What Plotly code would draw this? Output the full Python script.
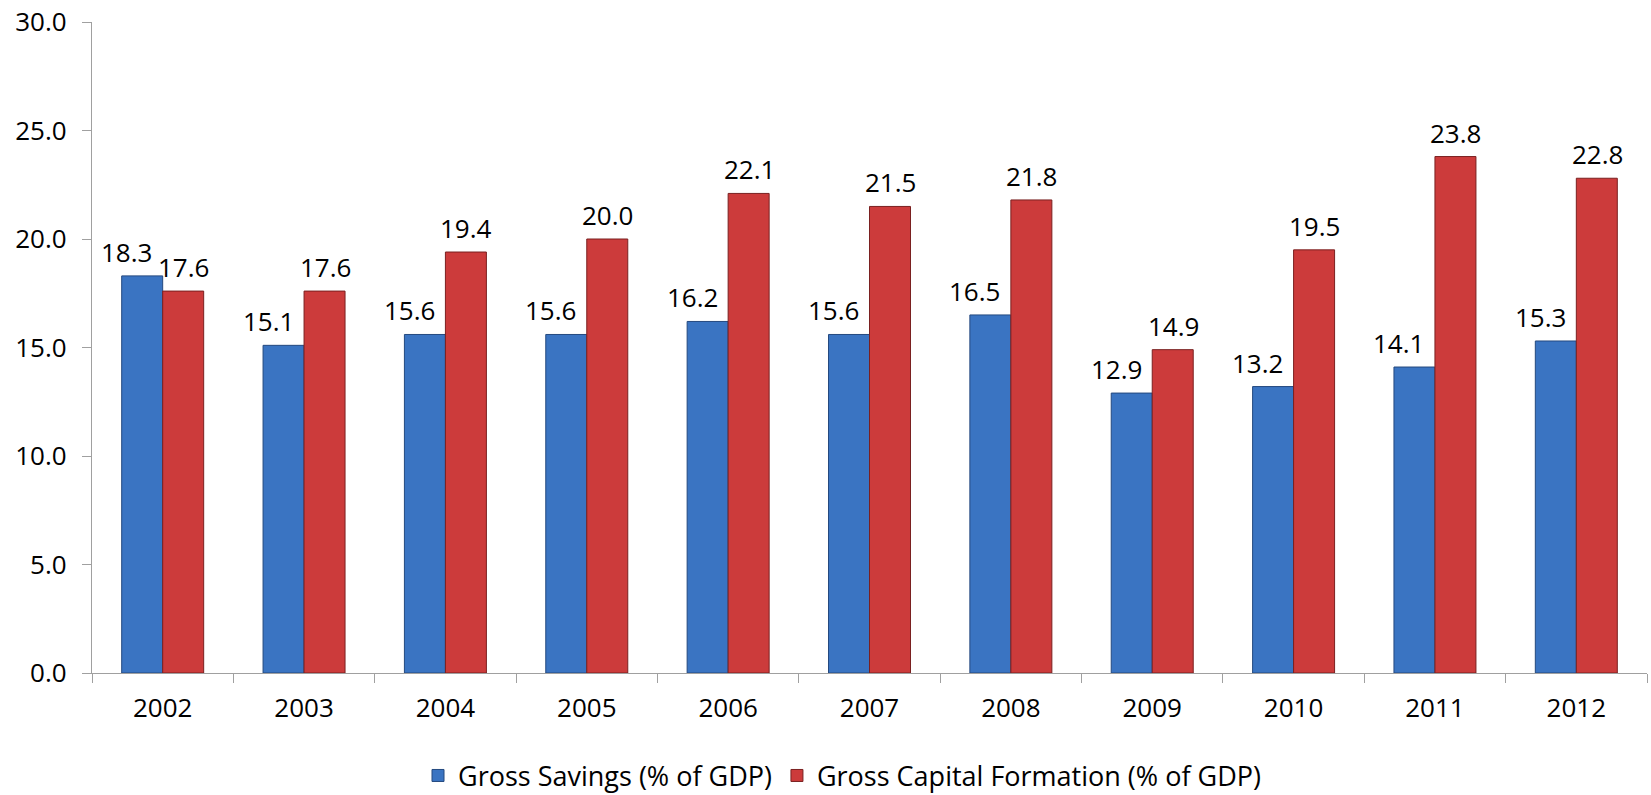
import plotly.graph_objects as go

years = ["2002", "2003", "2004", "2005", "2006", "2007", "2008", "2009", "2010", "2011", "2012"]
savings = [18.3, 15.1, 15.6, 15.6, 16.2, 15.6, 16.5, 12.9, 13.2, 14.1, 15.3]
capital = [17.6, 17.6, 19.4, 20.0, 22.1, 21.5, 21.8, 14.9, 19.5, 23.8, 22.8]
y_ticks = [0, 5, 10, 15, 20, 25, 30]

font_family = "Open Sans, Liberation Sans, sans-serif"
label_size = 26

fig = go.Figure()
fig.add_trace(go.Bar(
    x=years, y=savings, name="Gross Savings (% of GDP)",
    marker=dict(color="#3a74c2", line=dict(color="#24497f", width=1)),
))
fig.add_trace(go.Bar(
    x=years, y=capital, name="Gross Capital Formation (% of GDP)",
    marker=dict(color="#cc3b3b", line=dict(color="#7a2020", width=1)),
))

# value labels drawn from the data arrays (category axis uses serial index)
for i, v in enumerate(savings):
    fig.add_annotation(x=i, y=v, text=f"{v:.1f}", showarrow=False,
                       xanchor="center", yanchor="bottom", xshift=-36, yshift=4,
                       font=dict(size=label_size, color="#000000", family=font_family))
for i, v in enumerate(capital):
    fig.add_annotation(x=i, y=v, text=f"{v:.1f}", showarrow=False,
                       xanchor="center", yanchor="bottom", xshift=21, yshift=4,
                       font=dict(size=label_size, color="#000000", family=font_family))

fig.update_layout(
    width=1651, height=795,
    margin=dict(l=92, r=4, t=22, b=122, autoexpand=False),
    paper_bgcolor="white", plot_bgcolor="white",
    barmode="group", bargap=0.42, bargroupgap=0,
    font=dict(family=font_family, size=26, color="#000000"),
    legend=dict(orientation="h", x=0.51, xanchor="center", xref="container",
                y=0.024, yanchor="middle", yref="container",
                font=dict(size=27), traceorder="normal"),
    showlegend=True,
)
fig.update_xaxes(
    type="category", categoryorder="array", categoryarray=years,
    range=[-0.5, len(years) - 0.5],
    showline=True, linecolor="#a0a0a0", linewidth=1.3,
    ticks="outside", tickson="boundaries", ticklen=9, tickcolor="#a0a0a0",
    showgrid=False, tickfont=dict(size=26), automargin=False,
    ticklabelstandoff=12,
)
fig.update_yaxes(
    range=[0, 30], tickvals=y_ticks, ticktext=[f"{v:.1f}" for v in y_ticks],
    showline=True, linecolor="#a0a0a0", linewidth=1.3,
    ticks="outside", ticklen=9, tickcolor="#a0a0a0",
    showgrid=False, zeroline=False, tickfont=dict(size=26), automargin=False,
    ticklabelstandoff=10,
)

fig.write_html(
    "out.html",
    config={"displayModeBar": False},
    post_script="document.body.style.margin='0';document.body.style.overflow='hidden';",
)
